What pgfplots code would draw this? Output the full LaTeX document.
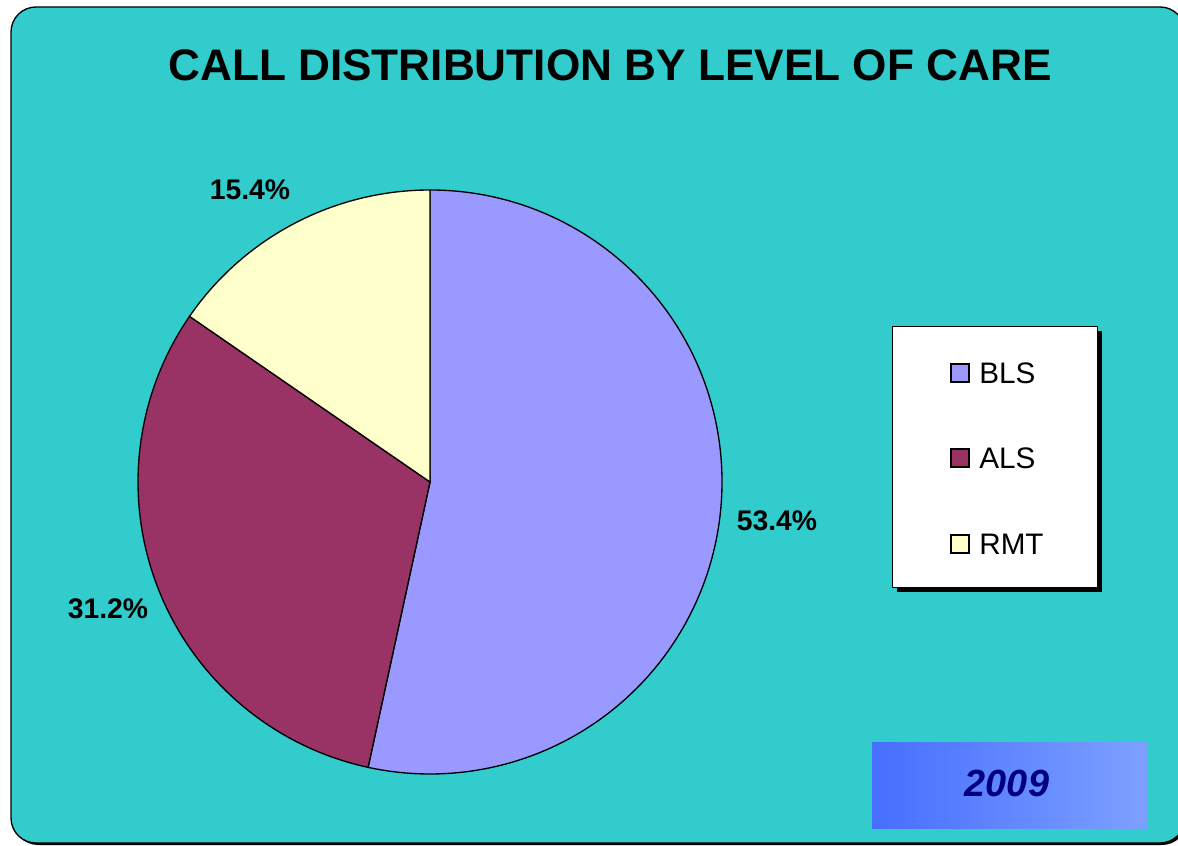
\documentclass[border=0pt]{standalone}
\usepackage{pgfplots}
\pgfplotsset{compat=1.18}
\usepackage{pgfplotstable}
\usepackage{fontspec}
\setmainfont{Liberation Sans}
\definecolor{bg}{HTML}{33CCCC}
\definecolor{bls}{HTML}{9999FF}
\definecolor{als}{HTML}{993366}
\definecolor{rmt}{HTML}{FFFFCC}
\definecolor{navy}{HTML}{000080}
\pgfplotstableread{
name value lx ly
BLS 53.4 777 521
ALS 31.2 108 609
RMT 15.4 250 190
}\piedata
\begin{document}
\begin{tikzpicture}[x=0.6bp,y=0.6bp]
\useasboundingbox (0,0) rectangle (1178,845);
\clip (0,0) rectangle (1178,845);
\fill[white] (0,0) rectangle (1178,845);
% background panel with shadow
\fill[black, rounded corners=15bp] (13,0) rectangle (1187,836);
\draw[fill=bg, line width=0.8bp, rounded corners=15bp] (11,2) rectangle (1185,838);
% data
\pgfplotstablegetelem{0}{value}\of\piedata \let\vA\pgfplotsretval
\pgfplotstablegetelem{1}{value}\of\piedata \let\vB\pgfplotsretval
\pgfplotstablegetelem{2}{value}\of\piedata \let\vC\pgfplotsretval
\pgfplotstablegetelem{0}{lx}\of\piedata \let\xA\pgfplotsretval
\pgfplotstablegetelem{1}{lx}\of\piedata \let\xB\pgfplotsretval
\pgfplotstablegetelem{2}{lx}\of\piedata \let\xC\pgfplotsretval
\pgfplotstablegetelem{0}{ly}\of\piedata \let\yA\pgfplotsretval
\pgfplotstablegetelem{1}{ly}\of\piedata \let\yB\pgfplotsretval
\pgfplotstablegetelem{2}{ly}\of\piedata \let\yC\pgfplotsretval
\pgfmathsetmacro\aA{90}
\pgfmathsetmacro\aB{\aA-3.6*\vA}
\pgfmathsetmacro\aC{\aB-3.6*\vB}
\pgfmathsetmacro\aD{\aC-3.6*\vC}
\pgfkeys{/pgf/number format/assume math mode=true}
\begin{axis}[
  at={(0,0)}, anchor=south west,
  x=0.6bp, y=0.6bp,
  xmin=0, xmax=1178, ymin=0, ymax=845,
  hide axis, clip=false,
]
\draw[fill=bls, line width=0.8bp] (axis cs:430,363) -- ++(\aA:175.2bp) arc[start angle=\aA, end angle=\aB, radius=175.2bp] -- cycle;
\draw[fill=als, line width=0.8bp] (axis cs:430,363) -- ++(\aB:175.2bp) arc[start angle=\aB, end angle=\aC, radius=175.2bp] -- cycle;
\draw[fill=rmt, line width=0.8bp] (axis cs:430,363) -- ++(\aC:175.2bp) arc[start angle=\aC, end angle=\aD, radius=175.2bp] -- cycle;
\node[font=\fontsize{17bp}{20bp}\selectfont\bfseries] at (axis cs:\xA,{845-\yA}) {\pgfmathprintnumber[fixed,precision=1,fixed zerofill,assume math mode=true]{\vA}\%};
\node[font=\fontsize{17bp}{20bp}\selectfont\bfseries] at (axis cs:\xB,{845-\yB}) {\pgfmathprintnumber[fixed,precision=1,fixed zerofill,assume math mode=true]{\vB}\%};
\node[font=\fontsize{17bp}{20bp}\selectfont\bfseries] at (axis cs:\xC,{845-\yC}) {\pgfmathprintnumber[fixed,precision=1,fixed zerofill,assume math mode=true]{\vC}\%};
\end{axis}
% title
\node[font=\fontsize{26.5bp}{30bp}\selectfont\bfseries] at (610,780) {CALL DISTRIBUTION BY LEVEL OF CARE};
% legend
\fill[black] (897,253) rectangle (1102,514);
\draw[fill=white, line width=0.6bp] (892,257) rectangle (1097,518);
\draw[fill=bls, line width=0.8bp] (951,463) rectangle (969,481);
\draw[fill=als, line width=0.8bp] (951,378) rectangle (969,396);
\draw[fill=rmt, line width=0.8bp] (951,292) rectangle (969,310);
\node[anchor=west, inner sep=0pt, font=\fontsize{17.8bp}{20bp}\selectfont] at (979,472) {BLS};
\node[anchor=west, inner sep=0pt, font=\fontsize{17.8bp}{20bp}\selectfont] at (979,387) {ALS};
\node[anchor=west, inner sep=0pt, font=\fontsize{17.8bp}{20bp}\selectfont] at (979,301) {RMT};
% year box
\shade[left color={rgb,255:red,70;green,110;blue,255}, right color={rgb,255:red,125;green,160;blue,255}] (872,16) rectangle (1147,102);
\node[font=\fontsize{22.7bp}{26bp}\selectfont\bfseries\itshape, text=navy] at (1007,62) {2009};
\end{tikzpicture}
\end{document}
